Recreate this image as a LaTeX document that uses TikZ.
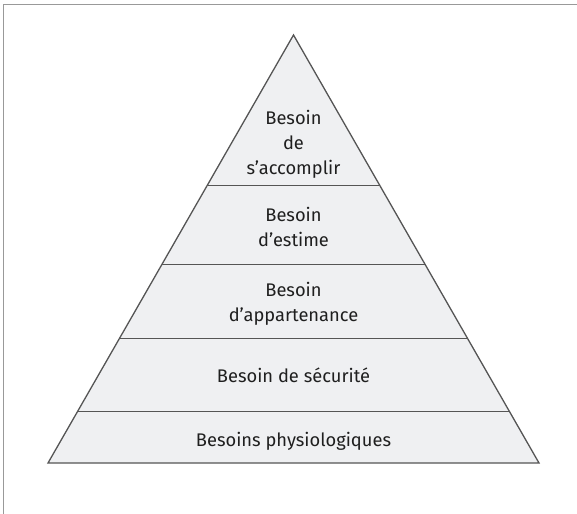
\documentclass[tikz,border=0pt]{standalone}
\usepackage{fontspec}
\setmainfont{Fira Sans}
\definecolor{pyrfill}{HTML}{EFF0F2}
\definecolor{pyrline}{HTML}{555555}
\definecolor{frame}{HTML}{999999}
\begin{document}
\begin{tikzpicture}[x=1pt,y=-1pt,
  lvl/.style={align=center,font=\fontsize{18.3}{25}\selectfont,text=black!88,inner sep=0pt},
  divider/.style={draw=pyrline,line width=1pt}]
\useasboundingbox (0,0) rectangle (577,513);
\draw[frame,line width=1.6pt] (3.5,514) -- (3.5,4.5) -- (578,4.5);
\coordinate (apex) at (293.5,35);
\coordinate (bl) at (48,463);
\coordinate (br) at (539,463);
\fill[pyrfill] (apex) -- (br) -- (bl) -- cycle;
% dividers
\foreach \y/\n in {185/a,264/b,338/c,411/d}{
  \pgfmathsetmacro{\hw}{(\y-35)/(463-35)*245.5}
  \coordinate (\n L) at (293.5-\hw,\y);
  \coordinate (\n R) at (293.5+\hw,\y);
  \draw[divider] (\n L) -- (\n R);
}
\draw[pyrline,line width=1.3pt,line join=miter] (apex) -- (br) -- (bl) -- cycle;
\node[lvl] (n5) at (293.5,144) {Besoin\\de\\s’accomplir};
\node[lvl] (n4) at (293.5,227) {Besoin\\d’estime};
\node[lvl] (n3) at (293.5,304) {Besoin\\d’appartenance};
\node[lvl] (n2) at (293.5,375) {Besoin de sécurité};
\node[lvl] (n1) at (293.5,441) {Besoins physiologiques};
\end{tikzpicture}
\end{document}
